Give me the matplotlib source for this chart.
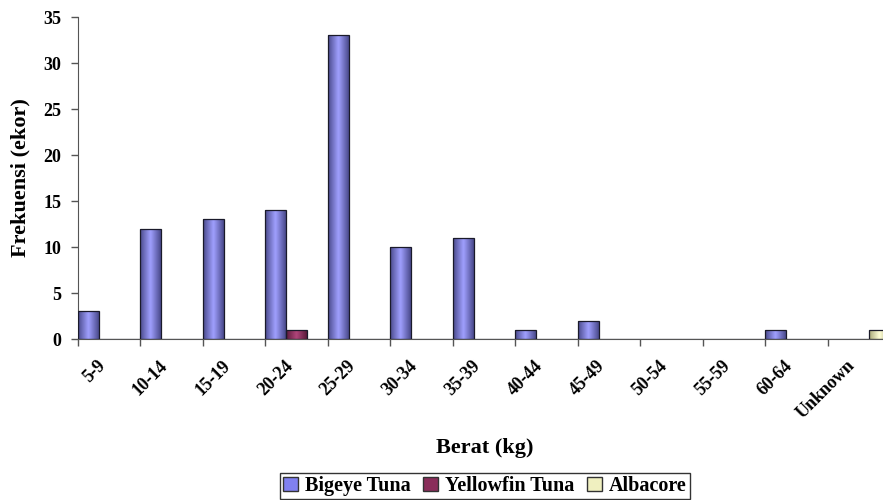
import numpy as np
import matplotlib.pyplot as plt
from matplotlib.colors import LinearSegmentedColormap
from matplotlib.patches import Patch

categories = ['5-9', '10-14', '15-19', '20-24', '25-29', '30-34', '35-39',
              '40-44', '45-49', '50-54', '55-59', '60-64', 'Unknown']
bigeye = [3, 12, 13, 14, 33, 10, 11, 1, 2, 0, 0, 1, 0]
yellowfin = [0, 0, 0, 1, 0, 0, 0, 0, 0, 0, 0, 0, 0]
albacore = [0, 0, 0, 0, 0, 0, 0, 0, 0, 0, 0, 0, 1]
series_names = ['Bigeye Tuna', 'Yellowfin Tuna', 'Albacore']
# dark edge / light centre of each bar's gradient
shades = [('#4a4a8c', '#a0a0ff'), ('#5a1a3a', '#b0457a'), ('#a8a878', '#ffffd8')]
legend_colors = ['#8080f0', '#8a2d5a', '#f0f0c0']

plt.rcParams['font.family'] = ['Liberation Serif', 'DejaVu Serif']
plt.rcParams['font.weight'] = 'bold'

W, H = 883, 500
fig = plt.figure(figsize=(W / 100, H / 100), dpi=100)
# plot area runs a little past the right edge of the figure
ax = fig.add_axes([78 / W, 1 - 339 / H, (890 - 78) / W, (339 - 17) / H])

x = np.arange(len(categories))
w = 1 / 3
grad = np.abs(np.linspace(-1, 1, 64))[None, :]
for k, vals in enumerate([bigeye, yellowfin, albacore]):
    bars = ax.bar(x + (k - 1) * w, vals, width=w, color='none',
                  edgecolor='#1a1a2a', linewidth=0.9, zorder=3)
    cmap = LinearSegmentedColormap.from_list('g%d' % k, [shades[k][1], shades[k][0]])
    for b in bars:
        if b.get_height() == 0:
            continue
        x0, h = b.get_x(), b.get_height()
        im = ax.imshow(grad, cmap=cmap, aspect='auto', vmin=0, vmax=1,
                       extent=[x0, x0 + b.get_width(), 0, h], zorder=2,
                       interpolation='bicubic')
        im.set_clip_path(b)

ax.set_xlim(-0.5, len(categories) - 0.5)
ax.set_ylim(0, 35)
ax.set_yticks(range(0, 36, 5))
# labels sit a little left of each group's centre
ax.set_xticks(x - 0.2)
ax.set_xticklabels(categories, rotation=45, ha='right', va='top',
                   rotation_mode='anchor', fontsize=13, fontweight='bold')
ax.set_xticks(np.arange(-0.5, len(categories), 1), minor=True)
ax.tick_params(axis='x', which='major', length=0, pad=13)
ax.tick_params(axis='x', which='minor', length=5, width=1, color='#555555')
ax.tick_params(axis='y', length=5, width=1, color='#555555', labelsize=13, pad=7)
for lbl in ax.get_yticklabels():
    lbl.set_fontweight('bold')

for side in ['top', 'right']:
    ax.spines[side].set_visible(False)
ax.spines['left'].set_color('#555555')
ax.spines['bottom'].set_color('#555555')

fig.text(20 / W, 1 - 178 / H, 'Frekuensi (ekor)', rotation=90, ha='center',
         va='center', fontsize=16, fontweight='bold')
fig.text(485 / W, 1 - 448 / H, 'Berat (kg)', ha='center', va='center',
         fontsize=16, fontweight='bold')

handles = [Patch(facecolor=c, edgecolor='#333333') for c in legend_colors]
fig.legend(handles, series_names, loc='center', bbox_to_anchor=(485 / W, 1 - 486 / H),
           ncol=3, frameon=True, fancybox=False, edgecolor='black',
           handlelength=0.75, handleheight=0.75, handletextpad=0.35, columnspacing=0.6,
           borderpad=0.15, borderaxespad=0, prop={'weight': 'bold', 'size': 14.5})

fig.savefig('out.png', dpi=100)
